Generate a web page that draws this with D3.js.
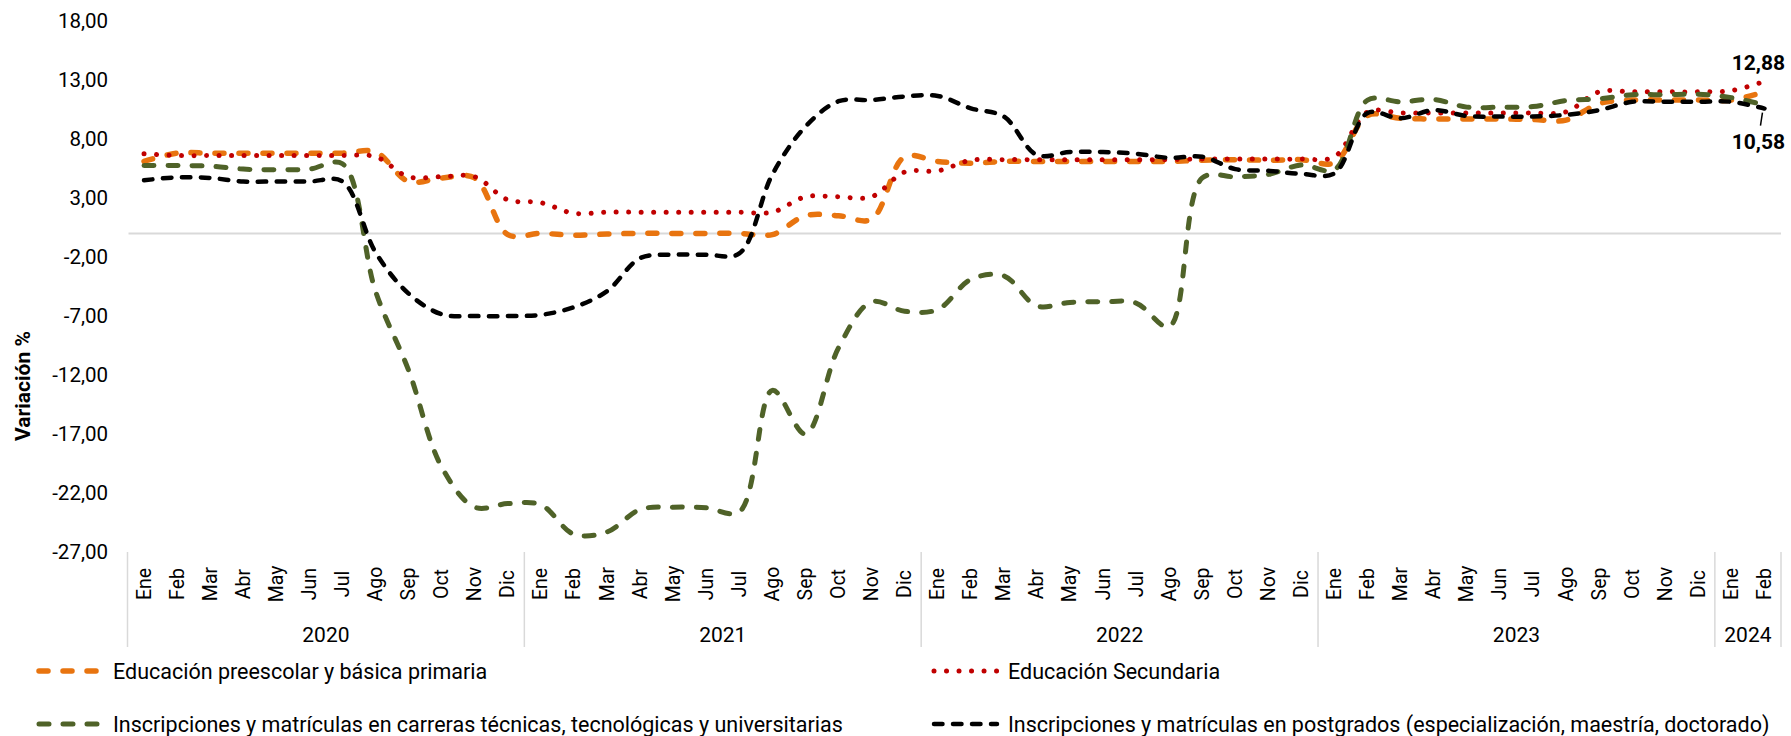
<!DOCTYPE html>
<html>
<head>
<meta charset="utf-8">
<script src="https://cdn.jsdelivr.net/npm/d3@7"></script>
<style>
  body { margin: 0; background: #fff; }
  text { font-family: Roboto, "Liberation Sans", sans-serif; fill: #000; }
</style>
</head>
<body>
<svg id="chart" width="1791" height="736"></svg>
<script>
const months = ['Ene', 'Feb', 'Mar', 'Abr', 'May', 'Jun', 'Jul', 'Ago', 'Sep', 'Oct', 'Nov', 'Dic'];
const years = [
  { year: '2020', n: 12 },
  { year: '2021', n: 12 },
  { year: '2022', n: 12 },
  { year: '2023', n: 12 },
  { year: '2024', n: 2 }
];
const yTicks = [18, 13, 8, 3, -2, -7, -12, -17, -22, -27];

const preescolar = [
  6.1, 6.8, 6.8, 6.8, 6.8, 6.8, 6.8, 6.9, 4.4, 4.7, 4.7, -0.1,
  0.0, -0.15, -0.05, 0.0, 0.0, 0.0, 0.0, -0.1, 1.5, 1.5, 1.2, 6.5,
  6.1, 5.95, 6.1, 6.1, 6.1, 6.1, 6.1, 6.1, 6.2, 6.25, 6.2, 6.25,
  6.0, 10.0, 9.75, 9.7, 9.7, 9.7, 9.65, 9.6, 11.0, 11.3, 11.3, 11.3,
  11.3, 12.0
];
const secundaria = [
  6.75, 6.6, 6.6, 6.6, 6.6, 6.6, 6.6, 6.5, 4.8, 4.8, 4.8, 2.85,
  2.6, 1.7, 1.8, 1.8, 1.8, 1.8, 1.8, 1.8, 3.1, 3.1, 3.1, 5.2,
  5.3, 6.2, 6.25, 6.25, 6.25, 6.25, 6.25, 6.25, 6.3, 6.3, 6.3, 6.3,
  6.5, 10.3, 10.2, 10.2, 10.2, 10.2, 10.2, 10.3, 12.0, 12.0, 12.0, 12.0,
  12.1, 12.88
];
const carreras = [
  5.75, 5.75, 5.7, 5.45, 5.4, 5.45, 5.9, -4.9, -11.6, -19.8, -23.2, -22.9,
  -23.0, -25.5, -25.3, -23.4, -23.2, -23.25, -23.6, -13.3, -17.0, -9.7, -5.8, -6.6,
  -6.45, -3.9, -3.6, -6.15, -5.85, -5.8, -5.9, -7.9, 4.7, 4.8, 5.0, 5.8,
  5.4, 11.3, 11.15, 11.35, 10.7, 10.7, 10.75, 11.25, 11.4, 11.75, 11.75, 11.8,
  11.5, 10.9
];
const postgrados = [
  4.5, 4.75, 4.7, 4.4, 4.4, 4.4, 4.4, -1.6, -5.1, -6.85, -7.0, -7.0,
  -6.9, -6.25, -4.9, -2.1, -1.8, -1.8, -1.7, 5.0, 9.05, 11.2, 11.3, 11.6,
  11.65, 10.6, 9.9, 6.65, 6.9, 6.9, 6.75, 6.4, 6.5, 5.45, 5.3, 5.05,
  5.1, 10.2, 9.75, 10.45, 9.95, 9.9, 9.9, 10.05, 10.45, 11.15, 11.15, 11.15,
  11.15, 10.58
];

const series = [
  { name: 'Educación preescolar y básica primaria', values: preescolar, color: '#E8740F', width: 5.5, dash: '9,15' },
  { name: 'Educación Secundaria', values: secundaria, color: '#C00000', width: 5, dash: '0.01,12.5' },
  { name: 'Inscripciones y matrículas en carreras técnicas, tecnológicas y universitarias', values: carreras, color: '#4F6228', width: 5, dash: '10,14' },
  { name: 'Inscripciones y matrículas en postgrados (especialización, maestría, doctorado)', values: postgrados, color: '#000000', width: 4.5, dash: '8.5,10.5' }
];

// month categories from the year groups
const cats = [];
years.forEach((y) => {
  for (let i = 0; i < y.n; i++) cats.push({ year: y.year, month: months[i] });
});

const svg = d3.select('#chart');
const plotLeft = 127.5;
const plotRight = 1781;
const plotTop = 21;
const plotBottom = 552;

const xscale = d3.scaleBand()
  .domain(d3.range(cats.length))
  .range([plotLeft, plotRight])
  .padding(0);
const xc = (i) => xscale(i) + xscale.bandwidth() / 2;

const yscale = d3.scaleLinear()
  .domain([-27, 18])
  .range([plotBottom, plotTop]);

const locale = d3.formatLocale({ decimal: ',', thousands: '.', grouping: [3], currency: ['$', ''], minus: '-' });
const fmt = locale.format('.2f');

// y axis labels (no axis line)
const leftAxis = d3.axisLeft(yscale)
  .tickValues(yTicks)
  .tickFormat(fmt)
  .tickSize(0)
  .tickPadding(0);

const yAxisG = svg.append('g')
  .attr('transform', `translate(108, 0)`)
  .call(leftAxis);
yAxisG.select('.domain').remove();
yAxisG.selectAll('text')
  .style('font-size', '20.5px')
  .style('font-family', 'Roboto, sans-serif');

svg.append('text')
  .text('Variación %')
  .attr('transform', `translate(23, 386) rotate(-90)`)
  .attr('text-anchor', 'middle')
  .attr('dominant-baseline', 'central')
  .style('font-size', '21px')
  .style('font-weight', 'bold');

// zero line
svg.append('line')
  .attr('x1', plotLeft + 1)
  .attr('x2', plotRight)
  .attr('y1', yscale(0))
  .attr('y2', yscale(0))
  .attr('stroke', '#D9D9D9')
  .attr('stroke-width', 2);

// category axis: month labels, year separators, year labels
const catG = svg.append('g');

catG.selectAll('text.month')
  .data(cats)
  .enter()
  .append('text')
  .attr('class', 'month')
  .text((d) => d.month)
  .attr('transform', (d, i) => `translate(${xc(i)}, 584) rotate(-90)`)
  .attr('text-anchor', 'middle')
  .attr('dominant-baseline', 'central')
  .style('font-size', '19.5px');

let start = 0;
const yearBounds = years.map((y) => {
  const b = { year: y.year, x0: xscale(start), x1: xscale(start + y.n - 1) + xscale.bandwidth() };
  start += y.n;
  return b;
});

const sepX = [yearBounds[0].x0].concat(yearBounds.map((b) => b.x1));
catG.selectAll('line')
  .data(sepX)
  .enter()
  .append('line')
  .attr('x1', (d) => d)
  .attr('x2', (d) => d)
  .attr('y1', plotBottom)
  .attr('y2', 647)
  .attr('stroke', '#D9D9D9')
  .attr('stroke-width', 1.5);

catG.selectAll('text.year')
  .data(yearBounds)
  .enter()
  .append('text')
  .attr('class', 'year')
  .text((d) => d.year)
  .attr('x', (d) => (d.x0 + d.x1) / 2)
  .attr('y', 635)
  .attr('text-anchor', 'middle')
  .attr('dominant-baseline', 'central')
  .style('font-size', '21px');

// lines
const line = d3.line()
  .x((d, i) => xc(i))
  .y((d) => yscale(d))
  .curve(d3.curveCatmullRom.alpha(0.5));

svg.append('g')
  .selectAll('path')
  .data(series)
  .enter()
  .append('path')
  .attr('d', (d) => line(d.values))
  .attr('fill', 'none')
  .attr('stroke', (d) => d.color)
  .attr('stroke-width', (d) => d.width)
  .attr('stroke-dasharray', (d) => d.dash)
  .attr('stroke-linecap', 'round');

// end labels
const last = cats.length - 1;
svg.append('text')
  .text(fmt(secundaria[last]))
  .attr('x', xc(last) - 6)
  .attr('y', yscale(secundaria[last]) - 18)
  .attr('text-anchor', 'middle')
  .attr('dominant-baseline', 'central')
  .style('font-size', '21px')
  .style('font-weight', 'bold');

svg.append('line')
  .attr('x1', xc(last) - 2)
  .attr('x2', xc(last) - 4)
  .attr('y1', yscale(postgrados[last]) + 4)
  .attr('y2', yscale(postgrados[last]) + 17)
  .attr('stroke', '#000')
  .attr('stroke-width', 1.5);

svg.append('text')
  .text(fmt(postgrados[last]))
  .attr('x', xc(last) - 6)
  .attr('y', yscale(postgrados[last]) + 33)
  .attr('text-anchor', 'middle')
  .attr('dominant-baseline', 'central')
  .style('font-size', '21px')
  .style('font-weight', 'bold');

// legend
const legendPos = [
  { x: 36, y: 671 },
  { x: 931, y: 671 },
  { x: 36, y: 724 },
  { x: 931, y: 724 }
];
const legend = svg.append('g')
  .selectAll('g')
  .data(series)
  .enter()
  .append('g')
  .attr('transform', (d, i) => `translate(${legendPos[i].x}, ${legendPos[i].y})`);

legend.append('line')
  .attr('x1', 3)
  .attr('x2', 66)
  .attr('y1', 0)
  .attr('y2', 0)
  .attr('stroke', (d) => d.color)
  .attr('stroke-width', (d) => d.width)
  .attr('stroke-dasharray', (d) => d.dash)
  .attr('stroke-linecap', 'round');

legend.append('text')
  .text((d) => d.name)
  .attr('x', 77)
  .attr('y', 0)
  .attr('dominant-baseline', 'central')
  .style('font-size', '21.5px');
</script>
</body>
</html>
